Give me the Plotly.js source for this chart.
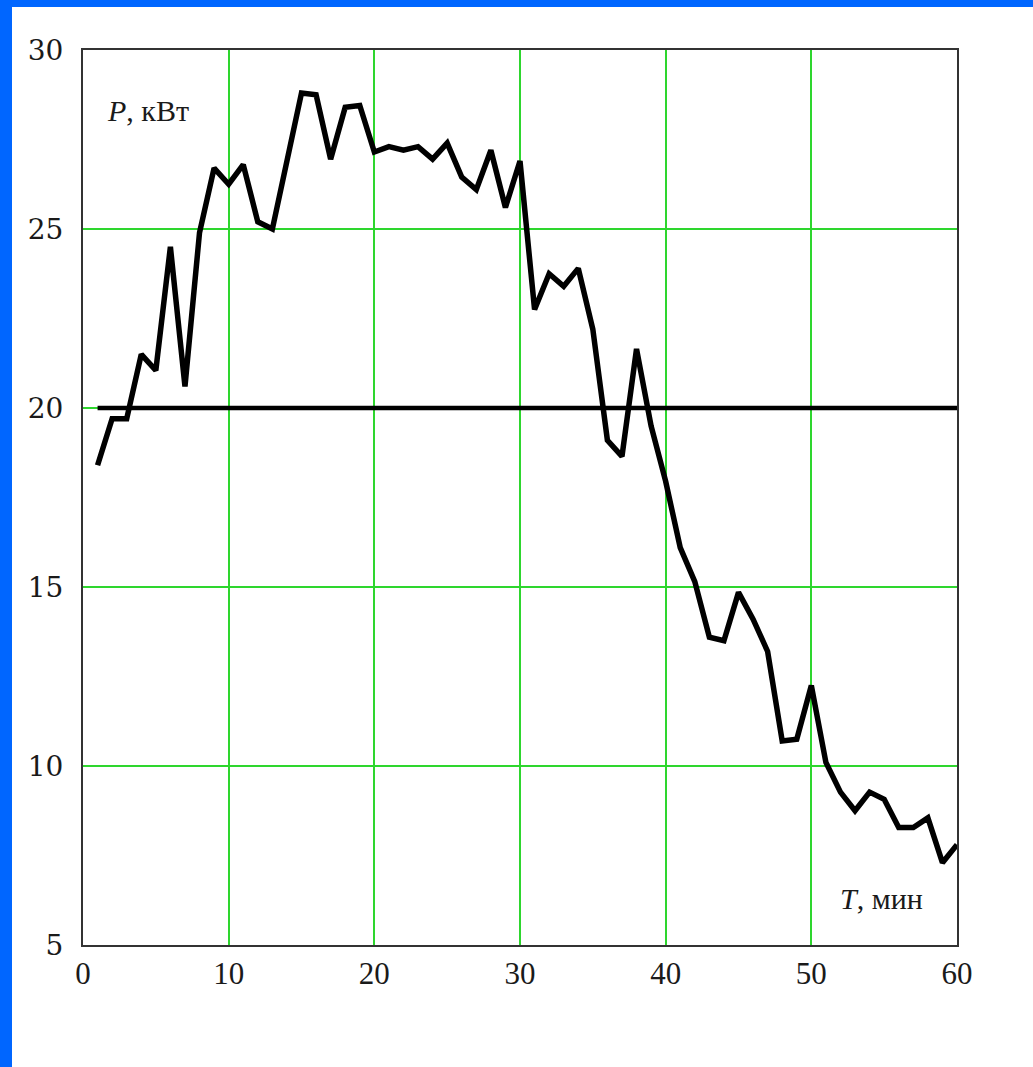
<!DOCTYPE html>
<html>
<head>
<meta charset="utf-8">
<script src="https://cdn.plot.ly/plotly-3.0.1.min.js"></script>
<style>
  html, body { margin: 0; padding: 0; background: #ffffff; }
  #frame { width: 1021px; height: 1060px; border-top: 7px solid #0066ff; border-left: 12px solid #0066ff; background: #ffffff; }
  #chart { width: 1021px; height: 1060px; }
</style>
</head>
<body>
<div id="frame"><div id="chart"></div></div>
<script>
// Time, minutes
var timeMin = [1,2,3,4,5,6,7,8,9,10,11,12,13,14,15,16,17,18,19,20,
               21,22,23,24,25,26,27,28,29,30,31,32,33,34,35,36,37,38,39,40,
               41,42,43,44,45,46,47,48,49,50,51,52,53,54,55,56,57,58,59,60];
// Power, kW
var powerKW = [18.4,19.7,19.7,21.5,21.05,24.5,20.6,24.9,26.7,26.25,
               26.8,25.2,25.0,26.9,28.8,28.75,26.95,28.4,28.45,27.15,
               27.3,27.2,27.3,26.95,27.4,26.45,26.1,27.2,25.6,26.9,
               22.75,23.75,23.4,23.9,22.2,19.1,18.65,21.65,19.5,17.95,
               16.1,15.15,13.6,13.5,14.85,14.1,13.2,10.7,10.75,12.25,
               10.1,9.27,8.75,9.27,9.07,8.28,8.28,8.55,7.3,7.8];
// Average level
var avgX = [1, 60];
var avgY = [20, 20];

var xTicks = [0,10,20,30,40,50,60];
var yTicks = [5,10,15,20,25,30];

var traces = [
  { x: avgX, y: avgY, mode: 'lines', line: {color: '#000000', width: 4.5}, hoverinfo: 'skip', showlegend: false },
  { x: timeMin, y: powerKW, mode: 'lines', line: {color: '#000000', width: 5.5}, showlegend: false }
];

var layout = {
  width: 1021, height: 1060,
  margin: {l: 71, r: 76, t: 43, b: 122},
  paper_bgcolor: '#ffffff', plot_bgcolor: '#ffffff',
  showlegend: false,
  xaxis: {
    range: [0, 60], tickvals: xTicks, ticktext: xTicks.map(String),
    showgrid: true, gridcolor: '#2ed62e', gridwidth: 2,
    zeroline: false, showline: true, mirror: true, linecolor: '#333333', linewidth: 2,
    ticks: '', ticklabelstandoff: 0,
    tickfont: {family: 'Liberation Serif, Times New Roman, serif', size: 31, color: '#1a1a1a'}
  },
  yaxis: {
    range: [5, 30], tickvals: yTicks, ticktext: yTicks.map(String),
    showgrid: true, gridcolor: '#2ed62e', gridwidth: 2,
    zeroline: false, showline: true, mirror: true, linecolor: '#333333', linewidth: 2,
    ticks: '', ticklabelstandoff: 12,
    tickfont: {family: 'DejaVu Serif, serif', size: 28, color: '#1a1a1a'}
  },
  annotations: [
    { x: 1.5, y: 28.3, xref: 'x', yref: 'y', xanchor: 'left', yanchor: 'middle', showarrow: false,
      text: '<i>P</i>, кВт', font: {family: 'Liberation Serif, Times New Roman, serif', size: 30, color: '#1a1a1a'} },
    { x: 51.8, y: 6.3, xref: 'x', yref: 'y', xanchor: 'left', yanchor: 'middle', showarrow: false,
      text: '<i>T</i>, мин', font: {family: 'Liberation Serif, Times New Roman, serif', size: 30, color: '#1a1a1a'} }
  ]
};

Plotly.newPlot('chart', traces, layout, {displayModeBar: false, staticPlot: true});
</script>
</body>
</html>
